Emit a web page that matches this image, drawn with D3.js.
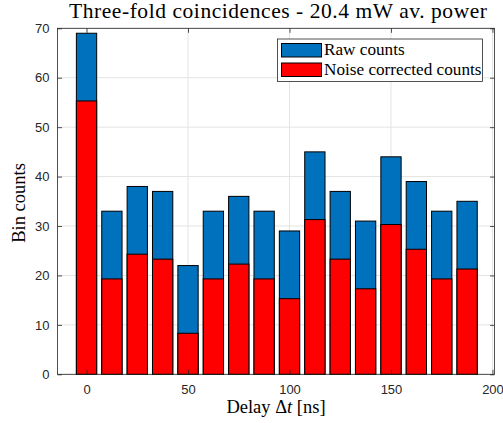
<!DOCTYPE html>
<html>
<head>
<meta charset="utf-8">
<script src="https://cdn.jsdelivr.net/npm/d3@7"></script>
<style>
  html, body { margin: 0; padding: 0; background: #fff; }
  svg { display: block; }
</style>
</head>
<body>
<svg id="chart" width="503" height="423"></svg>
<script>
// Delay bins (ns) and counts per bin
const delays = [0, 12.5, 25, 37.5, 50, 62.5, 75, 87.5, 100, 112.5, 125, 137.5, 150, 162.5, 175, 187.5];
const rawCounts = [69, 33, 38, 37, 22, 33, 36, 33, 29, 45, 37, 31, 44, 39, 33, 35];
const correctedCounts = [55.3, 19.3, 24.3, 23.3, 8.3, 19.3, 22.3, 19.3, 15.3, 31.3, 23.3, 17.3, 30.3, 25.3, 19.3, 21.3];
const xTicks = [0, 50, 100, 150, 200];
const yTicks = [0, 10, 20, 30, 40, 50, 60, 70];
const seriesNames = ["Raw counts", "Noise corrected counts"];
const seriesColors = ["#0072BD", "#FF0000"];

(function () {
const svg = d3.select("#chart");
const mLeft = 57.5, mRight = 494.5, mTop = 28.3, mBottom = 374.3;
const axisColor = "#262626";
const gridColor = "#e3e3e3";
const serif = "'Liberation Serif', 'DejaVu Serif', serif";
const sans = "'Liberation Sans', Arial, sans-serif";

const x = d3.scaleLinear().domain([-14.3, 201]).range([mLeft, mRight]);
const y = d3.scaleLinear().domain([0, 70]).range([mBottom, mTop]);
const barW = x(10) - x(0);

// grid
const grid = svg.append("g");
grid.selectAll(".gx").data(xTicks).join("line")
  .attr("x1", d => x(d)).attr("x2", d => x(d))
  .attr("y1", mTop).attr("y2", mBottom)
  .attr("stroke", gridColor).attr("stroke-width", 1);
grid.selectAll(".gy").data(yTicks).join("line")
  .attr("x1", mLeft).attr("x2", mRight)
  .attr("y1", d => y(d)).attr("y2", d => y(d))
  .attr("stroke", gridColor).attr("stroke-width", 1);

// bars: raw counts underneath, corrected counts drawn over them
const bars = svg.append("g");
bars.selectAll(".raw").data(delays).join("rect")
  .attr("x", (d) => x(d) - barW / 2)
  .attr("width", barW)
  .attr("y", (d, i) => y(rawCounts[i]))
  .attr("height", (d, i) => y(0) - y(rawCounts[i]))
  .attr("fill", seriesColors[0]).attr("stroke", "#000").attr("stroke-width", 1);
bars.selectAll(".cor").data(delays).join("rect")
  .attr("x", (d) => x(d) - barW / 2)
  .attr("width", barW)
  .attr("y", (d, i) => y(correctedCounts[i]))
  .attr("height", (d, i) => y(0) - y(correctedCounts[i]))
  .attr("fill", seriesColors[1]).attr("stroke", "#000").attr("stroke-width", 1);

// axes (ticks point inward, box on all sides)
const tickLen = 4.5;
const axB = svg.append("g").attr("transform", `translate(0,${mBottom})`)
  .call(d3.axisBottom(x).tickValues(xTicks).tickSizeInner(-tickLen).tickSizeOuter(0).tickPadding(10));
const axL = svg.append("g").attr("transform", `translate(${mLeft},0)`)
  .call(d3.axisLeft(y).tickValues(yTicks).tickSizeInner(-tickLen).tickSizeOuter(0).tickPadding(8));
const axT = svg.append("g").attr("transform", `translate(0,${mTop})`)
  .call(d3.axisTop(x).tickValues(xTicks).tickSizeInner(-tickLen).tickSizeOuter(0).tickFormat(""));
const axR = svg.append("g").attr("transform", `translate(${mRight},0)`)
  .call(d3.axisRight(y).tickValues(yTicks).tickSizeInner(-tickLen).tickSizeOuter(0).tickFormat(""));
[axB, axL, axT, axR].forEach(a => {
  a.select(".domain").remove();
  a.selectAll("line").attr("stroke", axisColor).attr("stroke-width", 0.8);
  a.selectAll("text").attr("fill", axisColor).attr("font-family", sans).attr("font-size", 13);
});
svg.append("rect").attr("x", mLeft).attr("y", mTop)
  .attr("width", mRight - mLeft).attr("height", mBottom - mTop)
  .attr("fill", "none").attr("stroke", axisColor).attr("stroke-width", 0.8);

// title and axis labels
svg.append("text").attr("x", 278).attr("y", 18)
  .attr("text-anchor", "middle").attr("font-family", serif).attr("font-size", 21.5)
  .attr("fill", "#000")
  .attr("textLength", 418).attr("lengthAdjust", "spacing")
  .text("Three-fold coincidences - 20.4 mW av. power");

const xl = svg.append("text").attr("x", 276).attr("y", 413)
  .attr("text-anchor", "middle").attr("font-family", serif).attr("font-size", 18.5).attr("fill", "#000");
xl.append("tspan").text("Delay \u0394");
xl.append("tspan").attr("font-style", "italic").text("t");
xl.append("tspan").text(" [ns]");

svg.append("text").attr("transform", `translate(25,203) rotate(-90)`)
  .attr("text-anchor", "middle").attr("font-family", serif).attr("font-size", 18.5).attr("fill", "#000")
  .text("Bin counts");

// legend
const lg = svg.append("g");
lg.append("rect").attr("x", 277.5).attr("y", 39).attr("width", 205).attr("height", 42.5)
  .attr("fill", "#fff").attr("stroke", axisColor).attr("stroke-width", 0.8);
seriesNames.forEach((name, i) => {
  const yy = 43.5 + i * 19.5;
  lg.append("rect").attr("x", 281.5).attr("y", yy).attr("width", 40).attr("height", 13.5)
    .attr("fill", seriesColors[i]).attr("stroke", "#000").attr("stroke-width", 1);
  lg.append("text").attr("x", 324).attr("y", yy + 11.5)
    .attr("font-family", serif).attr("font-size", 17.2).attr("fill", "#000").text(name);
});
})();
</script>
</body>
</html>
